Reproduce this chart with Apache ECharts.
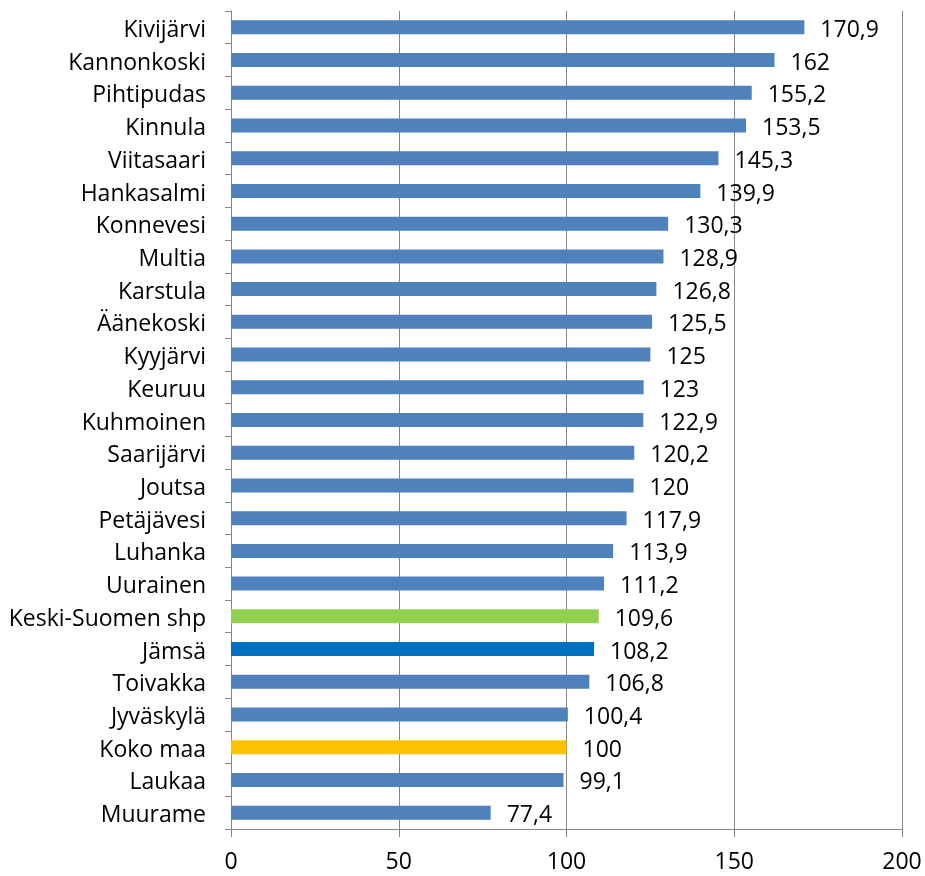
<!DOCTYPE html>
<html>
<head>
<meta charset="utf-8">
<script src="https://cdn.jsdelivr.net/npm/echarts@6/dist/echarts.min.js"></script>
<style>html,body{margin:0;padding:0;background:#fff;}#c{width:925px;height:876px;}</style>
</head>
<body>
<div id="c"></div>
<script>
const categories = ["Kivijärvi","Kannonkoski","Pihtipudas","Kinnula","Viitasaari","Hankasalmi","Konnevesi","Multia","Karstula","Äänekoski","Kyyjärvi","Keuruu","Kuhmoinen","Saarijärvi","Joutsa","Petäjävesi","Luhanka","Uurainen","Keski-Suomen shp","Jämsä","Toivakka","Jyväskylä","Koko maa","Laukaa","Muurame"];
const values = [170.9,162,155.2,153.5,145.3,139.9,130.3,128.9,126.8,125.5,125,123,122.9,120.2,120,117.9,113.9,111.2,109.6,108.2,106.8,100.4,100,99.1,77.4];
const xTicks = [0,50,100,150,200];
const highlightColors = {"Keski-Suomen shp":"#92D050","Jämsä":"#0070C0","Koko maa":"#FFC000"};

const FONT = "Open Sans";
const FS = 23;
const chart = echarts.init(document.getElementById('c'), null, {renderer:'canvas'});
chart.setOption({
  animation:false,
  grid:{left:231,right:23,top:11,bottom:47,containLabel:false},
  xAxis:{
    type:'value', min:xTicks[0], max:xTicks[xTicks.length-1], interval:50,
    axisLine:{show:true,lineStyle:{color:'#868686',width:1}},
    axisTick:{show:true,length:8,lineStyle:{color:'#868686'}},
    axisLabel:{color:'#000',fontFamily:FONT,fontSize:FS,margin:22},
    splitLine:{show:true,lineStyle:{color:'#868686',width:1}}
  },
  yAxis:{
    type:'category', data:categories, inverse:true,
    axisLine:{show:true,lineStyle:{color:'#868686'}},
    axisTick:{show:true,length:6,lineStyle:{color:'#868686'}},
    axisLabel:{color:'#000',fontFamily:FONT,fontSize:FS,margin:25,
      formatter:v=>'{a|'+v+'}',
      rich:{a:{fontFamily:FONT,fontSize:FS,color:'#000',padding:[6,0,0,0]}}}
  },
  series:[{
    type:'bar', barWidth:14,
    data: values.map((v,i)=>({value:v,itemStyle:{color:highlightColors[categories[i]]||'#4F81BD'}})),
    label:{show:true,position:'right',distance:16,offset:[0,3],color:'#000',fontFamily:FONT,fontSize:FS,
      formatter:p=>String(p.value).replace('.',',')}
  }]
});
</script>
</body>
</html>
